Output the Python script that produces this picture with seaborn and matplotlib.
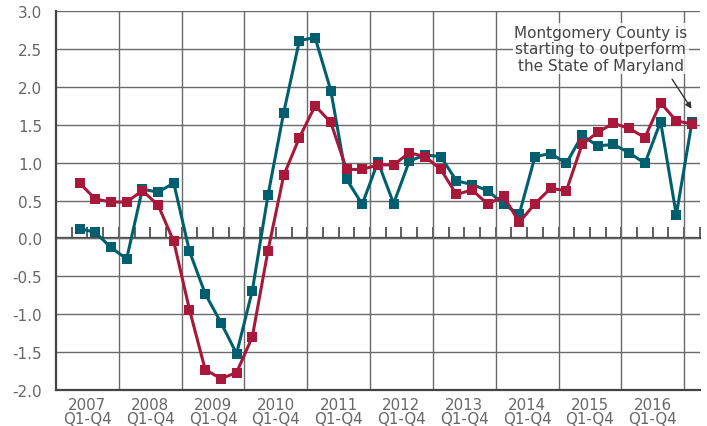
import numpy as np
import pandas as pd
import seaborn as sns
import matplotlib.pyplot as plt

years = [str(y) for y in range(2007, 2017)]
quarters = [f"{y} Q{q}" for y in years for q in range(1, 5)]

# Montgomery County (teal) and State of Maryland (red), quarterly values
county = [0.13, 0.08, -0.12, -0.27,
          0.65, 0.61, 0.73, -0.17,
          -0.73, -1.11, -1.52, -0.69,
          0.57, 1.66, 2.61, 2.65,
          1.95, 0.78, 0.45, 1.01,
          0.46, 1.02, 1.10, 1.08,
          0.76, 0.71, 0.63, 0.45,
          0.32, 1.08, 1.12, 0.99,
          1.36, 1.22, 1.24, 1.13,
          0.99, 1.54, 0.31, 1.54]
state = [0.73, 0.52, 0.48, 0.48,
         0.63, 0.44, -0.04, -0.94,
         -1.73, -1.85, -1.77, -1.30,
         -0.16, 0.83, 1.33, 1.75,
         1.53, 0.91, 0.91, 0.97,
         0.97, 1.13, 1.08, 0.91,
         0.58, 0.64, 0.45, 0.56,
         0.21, 0.46, 0.66, 0.63,
         1.24, 1.40, 1.52, 1.45,
         1.33, 1.79, 1.55, 1.51]

year_labels = [f"{y}\nQ1-Q4" for y in years]
yticks = [-2.0, -1.5, -1.0, -0.5, 0.0, 0.5, 1.0, 1.5, 2.0, 2.5, 3.0]

teal = "#005f6e"
red = "#a8183a"

df = pd.DataFrame({
    "q": list(range(len(quarters))) * 2,
    "value": county + state,
    "series": ["County"] * len(county) + ["State"] * len(state),
})

sns.set_style("white")
plt.rcParams["font.family"] = ["DejaVu Sans"]

fig = plt.figure(figsize=(7.07, 4.27), dpi=100)
ax = fig.add_axes([0.0792, 0.0843, 0.9107, 0.8876])

sns.lineplot(data=df, x="q", y="value", hue="series", palette={"County": teal, "State": red},
             hue_order=["County", "State"], marker="s", markersize=6.5, markeredgewidth=0,
             linewidth=2.2, legend=False, ax=ax, zorder=3)

ax.set_xlim(-1.5, 39.5)
ax.set_ylim(-2.0, 3.0)
ax.set_xlabel("")
ax.set_ylabel("")

ax.set_yticks(yticks)
ax.set_yticklabels([f"{v:.1f}" for v in yticks], fontsize=11, color="#666666")
ax.tick_params(axis="y", direction="in", length=12, width=1.5, color="#444444", pad=10)
ax.grid(axis="y", color="#6a6a6a", linewidth=1.0, zorder=0)

ax.set_xticks(np.arange(0.5, 40, 4))
ax.set_xticklabels(year_labels, fontsize=10.8, color="#666666", linespacing=0.9)
ax.tick_params(axis="x", which="major", length=0, pad=5)
ax.set_xticks(np.arange(2.5, 40, 4), minor=True)
ax.tick_params(axis="x", which="minor", length=0)
ax.grid(axis="x", which="minor", color="#6a6a6a", linewidth=1.0, zorder=0)

for s in ["top", "right"]:
    ax.spines[s].set_visible(False)
for s in ["left", "bottom"]:
    ax.spines[s].set_color("#444444")
    ax.spines[s].set_linewidth(1.6)

# zero line with quarter ticks
zero = ax.secondary_xaxis(0.4)
zero.set_xticks(np.arange(-0.5, 40, 1))
zero.set_xticklabels([])
zero.tick_params(direction="in", length=8, width=1.2, color="#444444")
zero.spines["bottom"].set_color("#444444")
zero.spines["bottom"].set_linewidth(1.6)

ax.text(33.2, 2.82, "Montgomery County is\nstarting to outperform\nthe State of Maryland",
        ha="center", va="top", fontsize=11, color="#444444", linespacing=1.12, zorder=5,
        bbox=dict(facecolor="white", edgecolor="none", alpha=0.8, pad=1))
ax.annotate("", xy=(38.97, 1.71), xytext=(37.73, 2.10),
            arrowprops=dict(arrowstyle="-|>", color="#333333", lw=1.0,
                            shrinkA=0, shrinkB=0, mutation_scale=9),
            zorder=5)

fig.savefig("out.png", dpi=100)
